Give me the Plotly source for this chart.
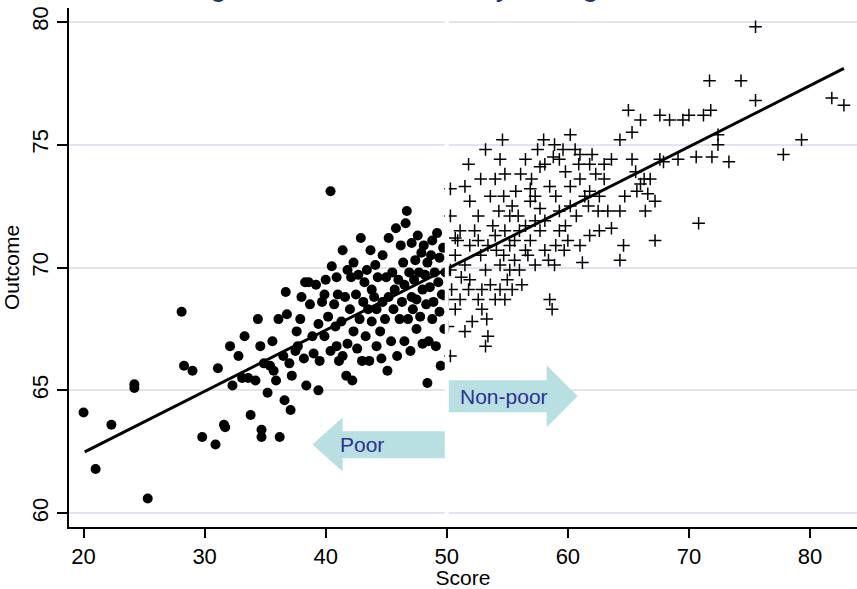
import plotly.graph_objects as go

# ---- data ----
poor_x = [20.0, 21.0, 22.3, 24.2, 24.2, 25.3, 28.1, 28.3, 29.0, 29.8, 30.9, 31.1, 31.6, 31.7, 32.1, 32.3, 32.8, 33.1,
          33.3, 33.6, 33.8, 34.2, 34.4, 34.6, 34.7, 34.7, 34.9, 35.2, 35.4, 35.6, 35.7, 35.9, 36.1, 36.2, 36.5, 36.6,
          36.7, 36.8, 37.0, 37.1, 37.2, 37.5, 37.6, 37.7, 37.9, 38.0, 38.2, 38.3, 38.4, 38.6, 38.7, 38.9, 39.0, 39.2,
          39.4, 39.4, 39.5, 39.7, 39.9, 39.9, 40.0, 40.2, 40.4, 40.4, 40.5, 40.7, 40.8, 40.9, 40.9, 41.0, 41.1, 41.3,
          41.4, 41.4, 41.6, 41.7, 41.8, 41.8, 42.0, 42.1, 42.2, 42.3, 42.3, 42.5, 42.6, 42.7, 42.8, 42.9, 43.0, 43.1,
          43.2, 43.3, 43.4, 43.5, 43.6, 43.7, 43.8, 43.8, 44.0, 44.1, 44.2, 44.2, 44.3, 44.5, 44.6, 44.7, 44.7, 44.9,
          45.0, 45.1, 45.2, 45.2, 45.4, 45.5, 45.6, 45.7, 45.8, 45.9, 46.0, 46.1, 46.2, 46.3, 46.4, 46.5, 46.5, 46.6,
          46.7, 46.8, 46.9, 47.0, 47.1, 47.1, 47.2, 47.3, 47.4, 47.5, 47.5, 47.6, 47.7, 47.8, 47.9, 48.0, 48.0, 48.1,
          48.2, 48.3, 48.4, 48.4, 48.5, 48.6, 48.7, 48.8, 48.8, 48.9, 49.0, 49.1, 49.2, 49.3, 49.4, 49.4, 49.5, 49.6,
          49.7, 49.8, 49.9]
poor_y = [64.1, 61.8, 63.6, 65.25, 65.1, 60.6, 68.2, 66.0, 65.8, 63.1, 62.8, 65.9, 63.6, 63.5, 66.8, 65.2, 66.4, 65.5,
          67.2, 65.5, 64.0, 65.4, 67.9, 66.8, 63.4, 63.1, 66.1, 64.9, 66.0, 67.0, 65.8, 65.4, 67.9, 63.1, 66.4, 64.6,
          69.0, 68.1, 66.1, 64.2, 65.6, 66.6, 67.4, 66.8, 67.9, 68.8, 66.3, 69.4, 65.2, 69.4, 68.5, 67.2, 66.5, 69.3,
          67.7, 65.0, 66.2, 68.6, 68.9, 67.2, 69.5, 68.0, 73.1, 66.6, 70.05, 68.5, 67.6, 66.8, 69.6, 68.9, 66.2, 67.8,
          70.7, 66.4, 68.8, 65.6, 69.9, 66.9, 68.3, 69.6, 65.4, 67.4, 70.2, 68.9, 66.7, 69.7, 67.9, 71.2, 66.2, 68.6,
          69.4, 67.2, 69.9, 68.3, 66.2, 70.7, 69.1, 67.8, 68.8, 70.1, 66.8, 68.3, 69.6, 67.4, 66.3, 70.5, 68.6, 67.9,
          69.6, 65.8, 71.2, 68.8, 67.0, 69.8, 68.3, 69.1, 71.6, 66.4, 69.5, 67.9, 70.9, 68.6, 70.2, 67.0, 69.3, 71.8,
          72.3, 67.9, 69.8, 66.6, 68.8, 71.0, 68.3, 69.5, 70.3, 67.5, 68.7, 71.3, 69.8, 68.0, 70.6, 66.9, 69.1, 70.9,
          69.7, 68.5, 70.2, 65.3, 67.0, 69.2, 70.5, 67.9, 71.1, 68.6, 69.8, 66.8, 71.4, 69.4, 68.2, 70.4, 66.0, 68.9,
          70.8, 67.5, 69.8]

nonpoor_x = [75.5, 74.3, 71.7, 71.8, 75.5, 81.8, 82.8, 79.3, 77.8, 73.3, 72.4, 71.2, 70.0, 72.4, 71.9, 70.6, 70.8, 69.5,
             67.6, 68.4, 65.0, 65.3, 66.0, 65.3, 64.3, 67.6, 67.9, 66.0, 66.6, 65.7, 66.3, 64.7, 64.3, 64.6, 63.6, 62.6,
             62.5, 61.8, 62.3, 63.0, 62.0, 60.6, 60.9, 61.0, 61.4, 61.7, 61.0, 61.2, 60.7, 60.2, 59.8, 59.3, 58.9, 58.1,
             58.5, 59.0, 59.3, 59.8, 60.0, 59.0, 58.4, 58.5, 58.7, 57.7, 57.3, 57.0, 57.5, 58.0, 56.5, 56.1, 55.7, 55.4,
             55.9, 56.5, 56.9, 56.7, 57.3, 57.7, 58.1, 54.6, 54.4, 53.2, 54.0, 54.8, 53.6, 54.3, 54.8, 55.2, 55.6, 54.4,
             55.0, 55.4, 54.0, 53.4, 52.8, 53.2, 53.6, 54.0, 52.9, 52.3, 52.6, 51.9, 51.5, 51.8, 52.8, 53.3, 53.4, 53.2,
             52.1, 51.5, 51.1, 50.7, 50.4, 50.3, 50.7, 50.9, 50.3, 50.3, 51.1, 51.5, 51.9, 51.8, 51.2, 50.3, 50.1, 50.1,
             50.7, 56.0, 56.2, 55.2, 56.9, 57.3, 59.3, 60.2, 62.6, 63.0, 63.6, 63.3, 67.2, 64.3, 61.8, 58.1, 58.9, 59.7,
             55.6, 56.0, 56.5, 61.8, 61.0, 58.8, 57.7, 56.9, 54.7, 55.2, 51.9, 52.6, 53.8, 54.1, 54.7, 54.8, 54.4, 52.9,
             52.6, 66.8, 67.2, 66.4, 65.6, 69.1, 60.2, 59.6]
nonpoor_y = [79.8, 77.6, 77.6, 76.4, 76.8, 76.9, 76.6, 75.2, 74.6, 74.3, 75.4, 76.2, 76.2, 75.0, 74.5, 74.5, 71.8, 76.0,
             76.2, 76.0, 76.4, 75.5, 76.0, 74.4, 75.2, 74.4, 74.3, 73.4, 73.0, 73.1, 73.6, 72.9, 72.3, 70.9, 71.6, 71.5,
             72.3, 73.1, 73.8, 74.2, 74.6, 74.8, 74.2, 73.6, 72.9, 72.5, 70.9, 70.2, 72.1, 73.3, 73.9, 74.4, 75.0, 74.2,
             73.3, 72.9, 72.3, 71.7, 71.1, 70.9, 70.3, 68.7, 68.3, 72.4, 72.9, 73.6, 74.8, 75.2, 74.4, 73.8, 73.1, 72.5,
             72.1, 71.7, 71.1, 70.5, 70.1, 71.5, 71.9, 75.2, 74.4, 74.8, 73.6, 73.8, 72.9, 72.3, 71.5, 70.9, 70.3, 70.1,
             69.5, 69.1, 71.3, 70.9, 70.5, 69.9, 69.3, 68.7, 68.3, 71.5, 72.1, 72.7, 73.3, 74.2, 73.6, 67.9, 67.2, 66.8,
             67.8, 67.4, 68.7, 68.3, 69.1, 69.9, 70.5, 71.1, 72.1, 73.2, 71.5, 70.1, 69.5, 69.1, 69.6, 66.4, 68.7, 67.6,
             71.2, 69.9, 69.3, 69.9, 72.7, 71.9, 71.5, 72.5, 72.9, 73.6, 74.4, 72.3, 71.1, 70.3, 71.3, 70.7, 70.1, 70.7,
             71.1, 71.5, 70.7, 74.2, 74.6, 74.5, 74.1, 73.2, 72.9, 72.1, 70.9, 71.1, 71.7, 70.7, 70.5, 68.7, 69.1, 69.1,
             68.7, 73.6, 72.7, 72.3, 73.9, 74.4, 75.4, 74.8]

fit_x = [20.1, 82.8]
fit_y = [62.5, 78.1]

cutoff = 50
x_ticks = [20, 30, 40, 50, 60, 70, 80]
y_ticks = [60, 65, 70, 75, 80]

title_text = "Regression Discontinuity Design"
x_title = "Score"
y_title = "Outcome"
label_poor = "Poor"
label_nonpoor = "Non-poor"

FONT = "Liberation Sans, Arial, sans-serif"
ARROW_FILL = "#b8dfe2"
LABEL_COLOR = "#2e3192"

fig = go.Figure()

fig.add_trace(go.Scatter(
    x=poor_x, y=poor_y, mode="markers",
    marker=dict(symbol="circle", size=10, color="black", line=dict(width=0)),
    showlegend=False, hoverinfo="skip"))

fig.add_trace(go.Scatter(
    x=nonpoor_x, y=nonpoor_y, mode="markers",
    marker=dict(symbol="cross-thin", size=9, color="black", line=dict(width=1.5, color="black")),
    showlegend=False, hoverinfo="skip"))

fig.add_trace(go.Scatter(
    x=fit_x, y=fit_y, mode="lines",
    line=dict(color="black", width=3),
    showlegend=False, hoverinfo="skip"))

# arrows
def arrow_path(x_base, x_neck, x_tip, y_body_lo, y_body_hi, y_head_lo, y_head_hi, y_tip):
    return (f"M {x_base},{y_body_lo} L {x_neck},{y_body_lo} L {x_neck},{y_head_lo} "
            f"L {x_tip},{y_tip} L {x_neck},{y_head_hi} L {x_neck},{y_body_hi} "
            f"L {x_base},{y_body_hi} Z")

fig.add_shape(type="path", xref="x", yref="y", layer="above",
              path=arrow_path(50.0, 58.25, 60.8, 64.11, 65.41, 63.5, 66.02, 64.76),
              fillcolor=ARROW_FILL, line=dict(width=0))
fig.add_shape(type="path", xref="x", yref="y", layer="above",
              path=arrow_path(49.85, 41.4, 38.9, 62.24, 63.34, 61.7, 63.9, 62.8),
              fillcolor=ARROW_FILL, line=dict(width=0))

# white separator at the cutoff
fig.add_shape(type="line", xref="x", yref="paper", x0=cutoff, x1=cutoff, y0=0.004, y1=1,
              line=dict(color="white", width=4), layer="above")

fig.add_annotation(x=54.75, y=64.76, xref="x", yref="y", text=label_nonpoor, showarrow=False,
                   font=dict(family=FONT, size=21, color=LABEL_COLOR))
fig.add_annotation(x=43.0, y=62.8, xref="x", yref="y", text=label_poor, showarrow=False,
                   font=dict(family=FONT, size=21, color=LABEL_COLOR))

# clipped title at the top edge
fig.add_annotation(x=0.127, y=1.0087, xref="paper", yref="paper", xanchor="left", yanchor="bottom",
                   text=title_text, showarrow=False, borderpad=0,
                   font=dict(family=FONT, size=31, color="#1f3864"))

fig.update_layout(
    width=857, height=589,
    margin=dict(l=69, r=0, t=8, b=62, autoexpand=False),
    paper_bgcolor="white", plot_bgcolor="white",
    font=dict(family=FONT, size=22, color="black"),
    xaxis=dict(range=[18.8, 83.88], tickmode="array", tickvals=x_ticks, automargin=False,
               showgrid=False, zeroline=False, showline=True, linecolor="black", linewidth=1.5,
               ticks="outside", ticklen=9, tickwidth=1.5, tickcolor="black",
               tickfont=dict(size=22), title=dict(text=x_title, standoff=6, font=dict(size=21))),
    yaxis=dict(range=[59.44, 80.56], tickmode="array", tickvals=y_ticks, tickangle=-90, automargin=False,
               showgrid=True, gridcolor="#e1e5f0", gridwidth=1.5, zeroline=False,
               showline=True, linecolor="black", linewidth=1.5,
               ticks="outside", ticklen=10, tickwidth=1.5, tickcolor="black",
               tickfont=dict(size=22), title=dict(text=y_title, standoff=4, font=dict(size=21))),
)

fig.write_html("out.html", config={"displayModeBar": False},
               post_script="document.body.style.margin='0';document.body.style.overflow='hidden';")
